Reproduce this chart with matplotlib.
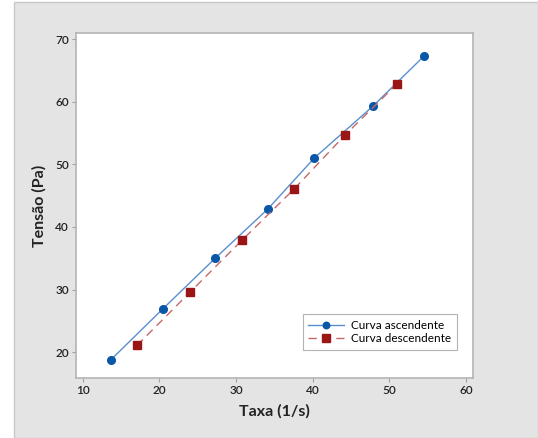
import matplotlib
matplotlib.use("Agg")
import matplotlib.pyplot as plt
from matplotlib.patches import Rectangle

plt.rcParams['font.family'] = ['Lato', 'DejaVu Sans']

asc_x = [13.65, 20.47, 27.26, 34.13, 40.2, 47.8, 54.5]
asc_y = [18.77, 26.95, 34.99, 42.85, 51.0, 59.23, 67.26]
desc_x = [17.08, 24.0, 30.78, 37.56, 44.2, 51.0]
desc_y = [21.1, 29.6, 37.9, 46.04, 54.66, 62.84]
xticks = [10, 20, 30, 40, 50, 60]
yticks = [20, 30, 40, 50, 60, 70]

W, H = 538, 438
fig = plt.figure(figsize=(W/100, H/100), dpi=100)
fig.patch.set_facecolor('white')
# gray panel
fig.patches.append(Rectangle((14/W, 0), (W-14)/W, (H-2)/H, transform=fig.transFigure,
                             facecolor='#e4e4e4', edgecolor='#c8c8c8', linewidth=1, zorder=0))

L, R, T, B = 76, 473, 33, 378
ax = fig.add_axes([L/W, 1-B/H, (R-L)/W, (B-T)/H])
ax.set_zorder(2)
ax.set_facecolor('white')

ax.plot(asc_x, asc_y, '-', color='#5a8fce', linewidth=1.0, marker='o', markersize=5.5,
        markerfacecolor='#0a57a8', markeredgecolor='#0a57a8', label='Curva ascendente', zorder=3)
ax.plot(desc_x, desc_y, '--', color='#c46a6a', linewidth=1.0, dashes=(6, 4), marker='s', markersize=6,
        markerfacecolor='#9a1515', markeredgecolor='#9a1515', label='Curva descendente', zorder=3)

ax.set_xlim(9.13, 60.9)
ax.set_ylim(15.9, 70.96)
ax.set_xticks(xticks)
ax.set_yticks(yticks)
ax.tick_params(direction='out', length=3, width=0.8, color='#a0a0a0', labelsize=8.5,
               labelcolor='#222222', pad=2)
for lab in ax.get_xticklabels() + ax.get_yticklabels():
    lab.set_fontweight('semibold')
for s in ax.spines.values():
    s.set_color('#b4b4b4')
    s.set_linewidth(1.2)

ax.set_xlabel('Taxa (1/s)', fontsize=11.5, fontweight='bold', color='#222222', labelpad=6)
ax.set_ylabel('Tensão (Pa)', fontsize=11.5, fontweight='bold', color='#222222', labelpad=6)

leg = ax.legend(loc='lower right', bbox_to_anchor=((457-L)/(R-L), (B-350)/(B-T)),
                fontsize=8.5, frameon=True, fancybox=False, handlelength=3.0,
                borderpad=0.5, labelspacing=0.15, handletextpad=0.6, markerscale=0.85,
                borderaxespad=0)
leg.get_frame().set_edgecolor('#a0a0a0')
leg.get_frame().set_linewidth(0.8)

fig.savefig('out.png', dpi=100, facecolor=fig.get_facecolor())
